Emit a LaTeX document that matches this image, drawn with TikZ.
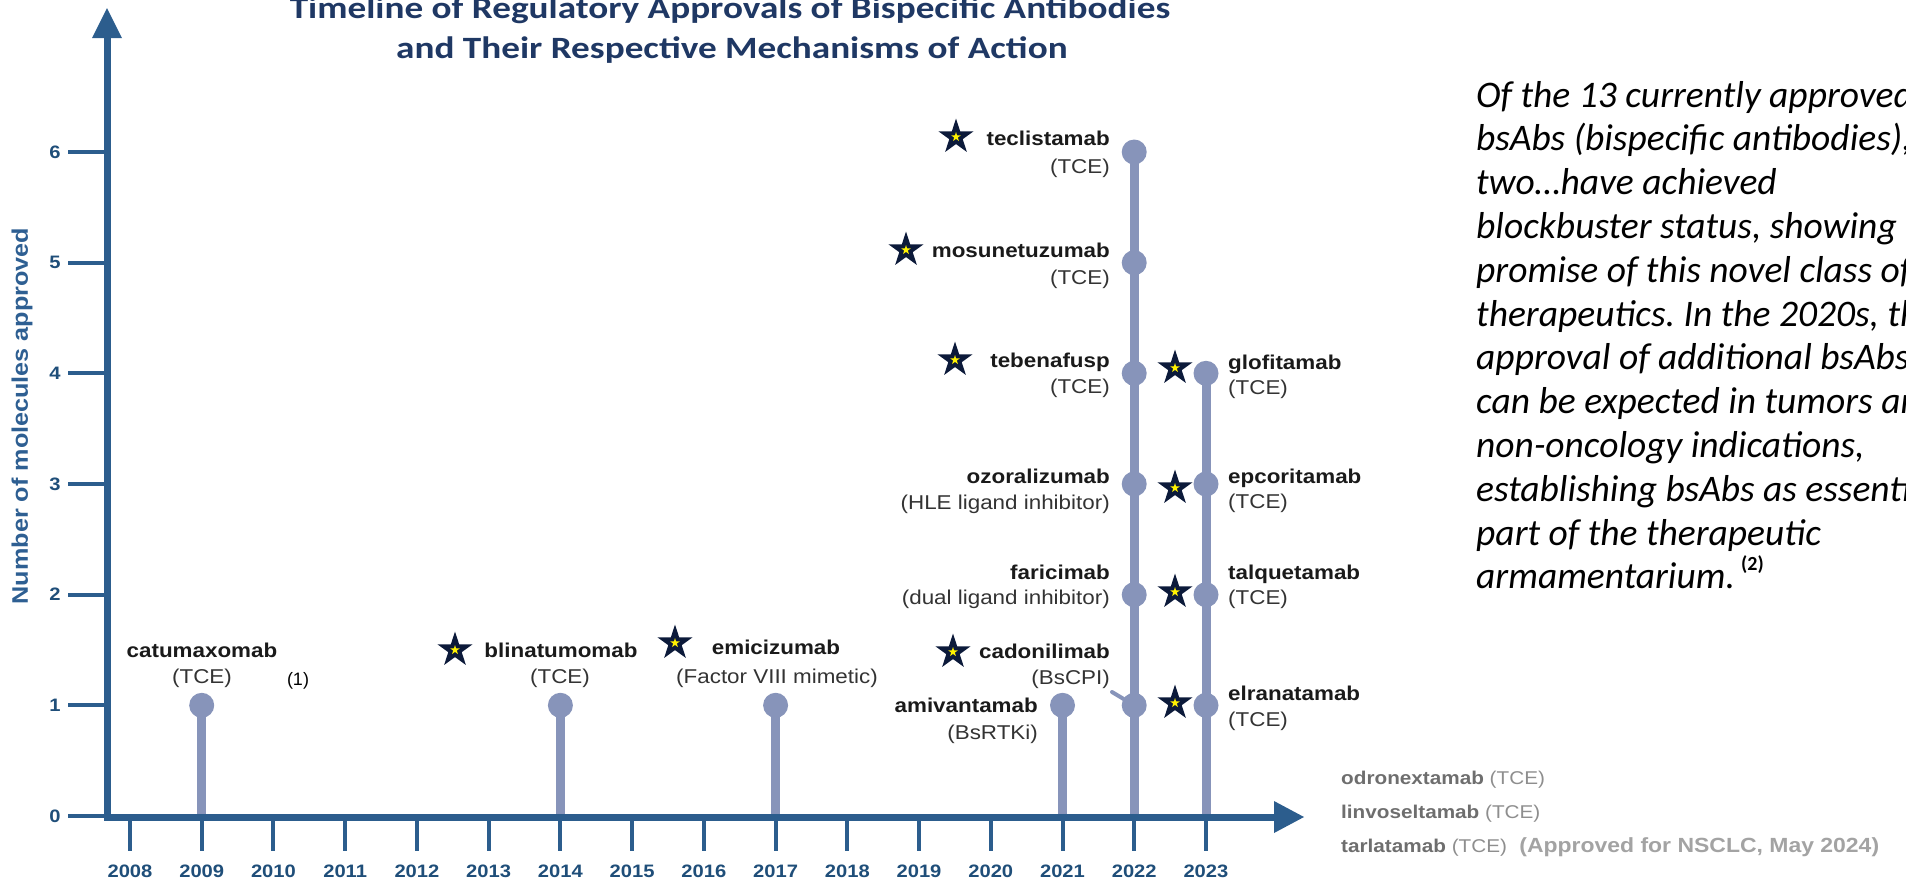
\documentclass[tikz,border=0pt]{standalone}
\usepackage{fontspec}
\setmainfont{Liberation Sans}
\newfontfamily\labfont[FakeStretch=1.12]{Liberation Sans}
\newfontfamily\calfont{Carlito}
\newfontfamily\titlefont[FakeStretch=1.2]{Carlito}
\usetikzlibrary{shapes.geometric}
\definecolor{axisblue}{HTML}{2C5D8D}
\definecolor{ticktext}{HTML}{1F4E79}
\definecolor{stemcol}{HTML}{8794BA}
\definecolor{titleblue}{HTML}{1F3864}
\definecolor{starnavy}{HTML}{0C1A3A}
\definecolor{ylabblue}{HTML}{2E5F92}
\definecolor{namecol}{HTML}{1A1A1A}
\definecolor{mechcol}{HTML}{333333}
\definecolor{greyname}{HTML}{6E6E6E}
\definecolor{greymech}{HTML}{8E8E8E}
\definecolor{greyappr}{HTML}{A3A3A3}
\tikzset{
  axisline/.style={axisblue, line width=7pt},
  tickline/.style={axisblue, line width=4pt},
  stemline/.style={stemcol, line width=9pt},
  leaderline/.style={stemcol, line width=4pt, line cap=round},
  dot/.style={circle, fill=stemcol, minimum size=25pt, inner sep=0pt},
  yearlab/.style={font=\labfont\bfseries\fontsize{18}{20}\selectfont, text=ticktext, inner sep=0pt},
  ticklab/.style={font=\labfont\bfseries\fontsize{18}{20}\selectfont, text=ticktext, inner sep=0pt},
  drugname/.style={font=\labfont\bfseries\fontsize{20}{24}\selectfont, text=namecol, inner sep=0pt},
  drugmech/.style={font=\labfont\fontsize{20}{24}\selectfont, text=mechcol, inner sep=0pt},
  greyline/.style={anchor=base west, inner sep=0pt, font=\labfont\fontsize{18.5}{22}\selectfont},
  titletext/.style={font=\titlefont\bfseries\fontsize{31}{38}\selectfont, text=titleblue, inner sep=0pt, anchor=base},
  quoteline/.style={font=\calfont\itshape\fontsize{37.5}{44}\selectfont, text=black, inner sep=0pt, anchor=base west},
  bstar/.pic={
    \node[star, star points=5, star point ratio=2.618, fill=starnavy, minimum size=37pt, inner sep=0pt] (-outer) {};
    \node[star, star points=5, star point ratio=2.618, fill=yellow, minimum size=10pt, inner sep=0pt] (-inner) {};
  }
}
\begin{document}
\frenchspacing
\begin{tikzpicture}[x=1pt, y=-1pt]
\useasboundingbox (0,0) rectangle (1906,879);

% title
\node[titletext] (title1) at (730,18) {Timeline of Regulatory Approvals of Bispecific Antibodies};
\node[titletext] (title2) at (732,58) {and Their Respective Mechanisms of Action};

% y label
\node[rotate=90, font=\labfont\bfseries\fontsize{22.5}{26}\selectfont, text=ylabblue, inner sep=0pt] (ylab) at (22,416) {Number of molecules approved};

% stems and dots
\node[dot] (c09) at (201.7,705.3) {};
\node[dot] (c14) at (560.4,705.3) {};
\node[dot] (c17) at (775.6,705.3) {};
\node[dot] (c21) at (1062.5,705.3) {};
\node[dot] (c22a) at (1134.2,705.3) {};
\node[dot] (c22b) at (1134.2,594.7) {};
\node[dot] (c22c) at (1134.2,484) {};
\node[dot] (c22d) at (1134.2,373.3) {};
\node[dot] (c22e) at (1134.2,262.7) {};
\node[dot] (c22f) at (1134.2,152) {};
\node[dot] (c23a) at (1206,705.3) {};
\node[dot] (c23b) at (1206,594.7) {};
\node[dot] (c23c) at (1206,484) {};
\node[dot] (c23d) at (1206,373.3) {};
\coordinate (b09) at (201.7,816);
\coordinate (b14) at (560.4,816);
\coordinate (b17) at (775.6,816);
\coordinate (b21) at (1062.5,816);
\coordinate (b22) at (1134.2,816);
\coordinate (b23) at (1206,816);
\draw[stemline] (b09) -- (c09.center);
\draw[stemline] (b14) -- (c14.center);
\draw[stemline] (b17) -- (c17.center);
\draw[stemline] (b21) -- (c21.center);
\draw[stemline] (b22) -- (c22f.center);
\draw[stemline] (b23) -- (c23d.center);
\coordinate (ldr) at (1112,692);
\draw[leaderline] (ldr) -- (c22a.center);

% axes
\coordinate (ybot) at (107,820.5);
\coordinate (ytop) at (107,34);
\coordinate (ytip) at (107,8);
\coordinate (xleft) at (104,817);
\coordinate (xright) at (1278,817);
\coordinate (xtip) at (1304,817);
\foreach \k in {0,...,6}{
  \pgfmathsetmacro\yy{816-110.67*\k}
  \coordinate (ytl\k) at (68,\yy);
  \coordinate (ytr\k) at (107,\yy);
  \draw[tickline] (ytl\k) -- (ytr\k);
  \node[ticklab] (tl\k) at (55,\yy) {\k};
}
\foreach \i in {0,...,15}{
  \pgfmathsetmacro\xx{130+71.73*\i}
  \pgfmathtruncatemacro\yr{2008+\i}
  \coordinate (xtt\i) at (\xx,817);
  \coordinate (xtb\i) at (\xx,851);
  \draw[tickline] (xtt\i) -- (xtb\i);
  \node[yearlab] (yl\i) at (\xx,871) {\yr};
}
\draw[axisline] (ybot) -- (ytop);
\draw[axisline] (xleft) -- (xright);
\fill[axisblue] (ytip) -- ++(-15,30) -- ++(30,0) -- cycle;
\fill[axisblue] (xtip) -- ++(-30,-16) -- ++(0,32) -- cycle;

% labels
\node[drugname, anchor=base] (n09) at (202,657) {catumaxomab};
\node[drugmech, anchor=base] (m09) at (202,683) {(TCE)};
\node[anchor=base, font=\fontsize{18}{20}\selectfont, inner sep=0pt] (ref1) at (298,685) {(1)};
\node[drugname, anchor=base] (n14) at (561,657) {blinatumomab};
\node[drugmech, anchor=base] (m14) at (560,683) {(TCE)};
\node[drugname, anchor=base] (n17) at (776,654) {emicizumab};
\node[drugmech, anchor=base] (m17) at (777,683) {(Factor VIII mimetic)};
\node[drugname, anchor=base east] (n21) at (1038,712) {amivantamab};
\node[drugmech, anchor=base east] (m21) at (1038,739) {(BsRTKi)};
\node[drugname, anchor=base east] (n22a) at (1110,658) {cadonilimab};
\node[drugmech, anchor=base east] (m22a) at (1110,684) {(BsCPI)};
\node[drugname, anchor=base east] (n22b) at (1110,579) {faricimab};
\node[drugmech, anchor=base east] (m22b) at (1110,604) {(dual ligand inhibitor)};
\node[drugname, anchor=base east] (n22c) at (1110,483) {ozoralizumab};
\node[drugmech, anchor=base east] (m22c) at (1110,509) {(HLE ligand inhibitor)};
\node[drugname, anchor=base east] (n22d) at (1110,367) {tebenafusp};
\node[drugmech, anchor=base east] (m22d) at (1110,393) {(TCE)};
\node[drugname, anchor=base east] (n22e) at (1110,257) {mosunetuzumab};
\node[drugmech, anchor=base east] (m22e) at (1110,284) {(TCE)};
\node[drugname, anchor=base east] (n22f) at (1110,145) {teclistamab};
\node[drugmech, anchor=base east] (m22f) at (1110,173) {(TCE)};
\node[drugname, anchor=base west] (n23d) at (1228,369) {glofitamab};
\node[drugmech, anchor=base west] (m23d) at (1228,394) {(TCE)};
\node[drugname, anchor=base west] (n23c) at (1228,483) {epcoritamab};
\node[drugmech, anchor=base west] (m23c) at (1228,508) {(TCE)};
\node[drugname, anchor=base west] (n23b) at (1228,579) {talquetamab};
\node[drugmech, anchor=base west] (m23b) at (1228,604) {(TCE)};
\node[drugname, anchor=base west] (n23a) at (1228,700) {elranatamab};
\node[drugmech, anchor=base west] (m23a) at (1228,726) {(TCE)};

% stars
\pic (s14) at (455,650) {bstar};
\pic (s17) at (675,643) {bstar};
\pic (s22f) at (956,137) {bstar};
\pic (s22e) at (906,250) {bstar};
\pic (s22d) at (955,360) {bstar};
\pic (s22a) at (953,652) {bstar};
\pic (s23d) at (1175,368) {bstar};
\pic (s23c) at (1175,488) {bstar};
\pic (s23b) at (1175,592) {bstar};
\pic (s23a) at (1175,703) {bstar};

% bottom right list
\node[greyline] (odr) at (1341,784) {\textcolor{greyname}{\bfseries odronextamab} \textcolor{greymech}{(TCE)}};
\node[greyline] (linv) at (1341,818) {\textcolor{greyname}{\bfseries linvoseltamab} \textcolor{greymech}{(TCE)}};
\node[greyline] (tarl) at (1341,852) {\textcolor{greyname}{\bfseries tarlatamab} \textcolor{greymech}{(TCE)}};
\node[anchor=base west, inner sep=0pt, font=\labfont\bfseries\fontsize{20.5}{24}\selectfont, text=greyappr] (appr) at ([xshift=12pt]tarl.base east) {(Approved for NSCLC, May 2024)};

% quote
\node[quoteline] (q1) at (1476,107) {Of the 13 currently approved};
\node[quoteline] (q2) at (1476,150.8) {bsAbs (bispecific antibodies),};
\node[quoteline] (q3) at (1476,194.6) {two…have achieved};
\node[quoteline] (q4) at (1476,238.4) {blockbuster status, showing};
\node[quoteline] (q5) at (1476,282.2) {promise of this novel class of};
\node[quoteline] (q6) at (1476,326) {therapeutics. In the 2020s, the};
\node[quoteline] (q7) at (1476,369.8) {approval of additional bsAbs};
\node[quoteline] (q8) at (1476,413.6) {can be expected in tumors and};
\node[quoteline] (q9) at (1476,457.4) {non-oncology indications,};
\node[quoteline] (q10) at (1476,501.2) {establishing bsAbs as essential};
\node[quoteline] (q11) at (1476,545) {part of the therapeutic};
\node[quoteline] (q12) at (1476,588.8) {armamentarium.\,\raisebox{0.5em}{\upshape\bfseries\fontsize{20}{22}\selectfont(2)}};
\end{tikzpicture}
\end{document}
